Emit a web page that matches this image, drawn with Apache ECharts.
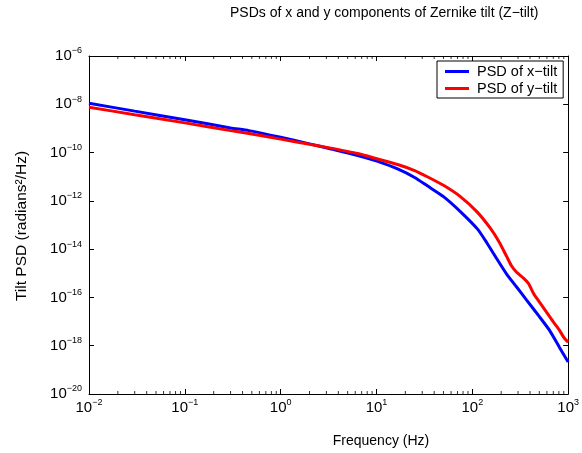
<!DOCTYPE html>
<html>
<head>
<meta charset="utf-8">
<script src="https://cdn.jsdelivr.net/npm/echarts@6/dist/echarts.min.js"></script>
<style>
html,body{margin:0;padding:0;background:#fff;}
#chart{width:582px;height:453px;}
</style>
</head>
<body>
<div id="chart"></div>
<script>
// ---- data ----
const freqX = [0.01, 0.03, 0.1, 0.3, 0.465, 1, 2, 3.13, 6.38, 10.3, 16.6, 25, 33.9, 50, 75, 114, 142, 180, 228, 290, 367, 501, 635, 807, 1000];
const psdX  = [1.10e-8, 5.2e-9, 2.3e-9, 1.05e-9, 8.1e-10, 4.3e-10, 2.3e-10, 1.5e-10, 7.6e-11, 4.3e-11, 2.1e-11, 9.3e-12, 4.2e-12, 1.5e-12, 3.6e-13, 6.6e-14, 1.8e-14, 4.0e-15, 9.3e-16, 2.7e-16, 7.9e-17, 1.6e-17, 4.5e-18, 8.9e-19, 2.1e-19];
const freqY = [0.01, 0.03, 0.1, 0.3, 0.465, 1, 2, 3.13, 6.38, 10.3, 16.6, 25, 33.9, 50, 75, 112, 156, 193, 228, 257, 290, 342, 385, 434, 467, 526, 592, 700, 807, 908, 1000];
const psdY  = [7.6e-9, 3.7e-9, 1.7e-9, 8.1e-10, 6.2e-10, 3.6e-10, 2.2e-10, 1.6e-10, 9.1e-11, 5.4e-11, 3.2e-11, 1.8e-11, 1.0e-11, 4.4e-12, 1.5e-12, 3.5e-13, 6.9e-14, 1.8e-14, 5.0e-15, 2.0e-15, 1.1e-15, 6.3e-16, 3.8e-16, 1.5e-16, 9.5e-17, 4.9e-17, 2.5e-17, 9.7e-18, 4.5e-18, 2.1e-18, 1.4e-18];
const seriesNames = ['PSD of x\u2212tilt', 'PSD of y\u2212tilt'];
const xTicks = [0.01, 0.1, 1, 10, 100, 1000];
const minorMultipliers = [2, 3, 4, 5, 6, 7, 8, 9];
const titleText = 'PSDs of x and y components of Zernike tilt (Z\u2212tilt)';
const xName = 'Frequency (Hz)';
const yName = 'Tilt PSD (radians\u00B2/Hz)';

const FONT = 'Liberation Sans, Arial, Helvetica, sans-serif';

function pairs(xs, ys){ return xs.map((x,i)=>[x, ys[i]]); }

// minor tick positions on the frequency axis
const minorFreqs = [];
for (let d = 0; d < xTicks.length - 1; d++) {
  minorMultipliers.forEach(m => minorFreqs.push(xTicks[d] * m));
}

function powLabel(v){
  const e = Math.round(Math.log10(v));
  const s = (e < 0 ? '\u2212' : '') + Math.abs(e);
  return '{b|10}{s|' + s + '}';
}
const richLabel = {
  b: {fontSize: 15, fontFamily: FONT, color: '#000'},
  s: {fontSize: 9, fontFamily: FONT, color: '#000', padding: [0,0,10,0]}
};

const chart = echarts.init(document.getElementById('chart'), null, {renderer: 'canvas'});
const grid = {left: 89, right: 10, top: 56, bottom: 59};

const option = {
  animation: false,
  backgroundColor: '#fff',
  grid: grid,
  legend: {
    data: seriesNames,
    orient: 'vertical',
    left: 437, top: 61,
    padding: [3, 6, 2, 8],
    itemGap: 2,
    itemWidth: 24, itemHeight: 3,
    icon: 'rect',
    borderColor: '#000', borderWidth: 1,
    backgroundColor: '#fff',
    textStyle: {fontSize: 14.5, fontFamily: FONT, color: '#000', padding: [0,0,0,3]}
  },
  xAxis: [{
    type: 'log', logBase: 10, min: 0.01, max: 1000,
    interval: 1,
    axisLine: {lineStyle: {color: '#000', width: 1}},
    axisTick: {inside: true, length: 5, lineStyle: {color: '#000'}},
    axisLabel: {formatter: powLabel, rich: richLabel, margin: 4},
    splitLine: {show: false}
  }, {
    type: 'log', logBase: 10, min: 0.01, max: 1000, position: 'top',
    interval: 1,
    axisLine: {lineStyle: {color: '#000', width: 1}},
    axisTick: {inside: true, length: 5, lineStyle: {color: '#000'}},
    axisLabel: {show: false},
    splitLine: {show: false}
  }],
  yAxis: [{
    type: 'log', logBase: 10, min: 1e-20, max: 1e-6,
    interval: 2,
    axisLine: {lineStyle: {color: '#000', width: 1}},
    axisTick: {inside: true, length: 5, lineStyle: {color: '#000'}},
    axisLabel: {formatter: powLabel, rich: richLabel, margin: 7},
    splitLine: {show: false}
  }, {
    type: 'log', logBase: 10, min: 1e-20, max: 1e-6, position: 'right',
    interval: 2,
    axisLine: {lineStyle: {color: '#000', width: 1}},
    axisTick: {inside: true, length: 5, lineStyle: {color: '#000'}},
    axisLabel: {show: false},
    splitLine: {show: false}
  }],
  series: [{
    name: seriesNames[0], type: 'line', data: pairs(freqX, psdX),
    showSymbol: false, smooth: 0.2, color: '#0000ff',
    lineStyle: {width: 3, color: '#0000ff'}, z: 3
  }, {
    name: seriesNames[1], type: 'line', data: pairs(freqY, psdY),
    showSymbol: false, smooth: 0.2, color: '#ff0000',
    lineStyle: {width: 3, color: '#ff0000'}, z: 4
  }, {
    name: 'minorBottom', type: 'scatter', silent: true,
    data: minorFreqs.map(f => [f, 1e-20]),
    symbol: 'rect', symbolSize: [1, 3], symbolOffset: [0, -1.5],
    itemStyle: {color: '#000'}, clip: false
  }, {
    name: 'minorTop', type: 'scatter', silent: true,
    data: minorFreqs.map(f => [f, 1e-6]),
    symbol: 'rect', symbolSize: [1, 3], symbolOffset: [0, 1.5],
    itemStyle: {color: '#000'}, clip: false
  }],
  graphic: [{
    type: 'text', left: 230, top: 6,
    style: {text: titleText, font: '14px ' + FONT, fill: '#000'}
  }, {
    type: 'text', x: 381, y: 441,
    style: {text: xName, font: '14px ' + FONT, fill: '#000', textAlign: 'center', textVerticalAlign: 'middle'}
  }, {
    type: 'text', x: 22, y: 226, rotation: Math.PI / 2,
    style: {text: yName, font: '15.5px ' + FONT, fill: '#000', textAlign: 'center', textVerticalAlign: 'middle'}
  }]
};
chart.setOption(option);
</script>
</body>
</html>
